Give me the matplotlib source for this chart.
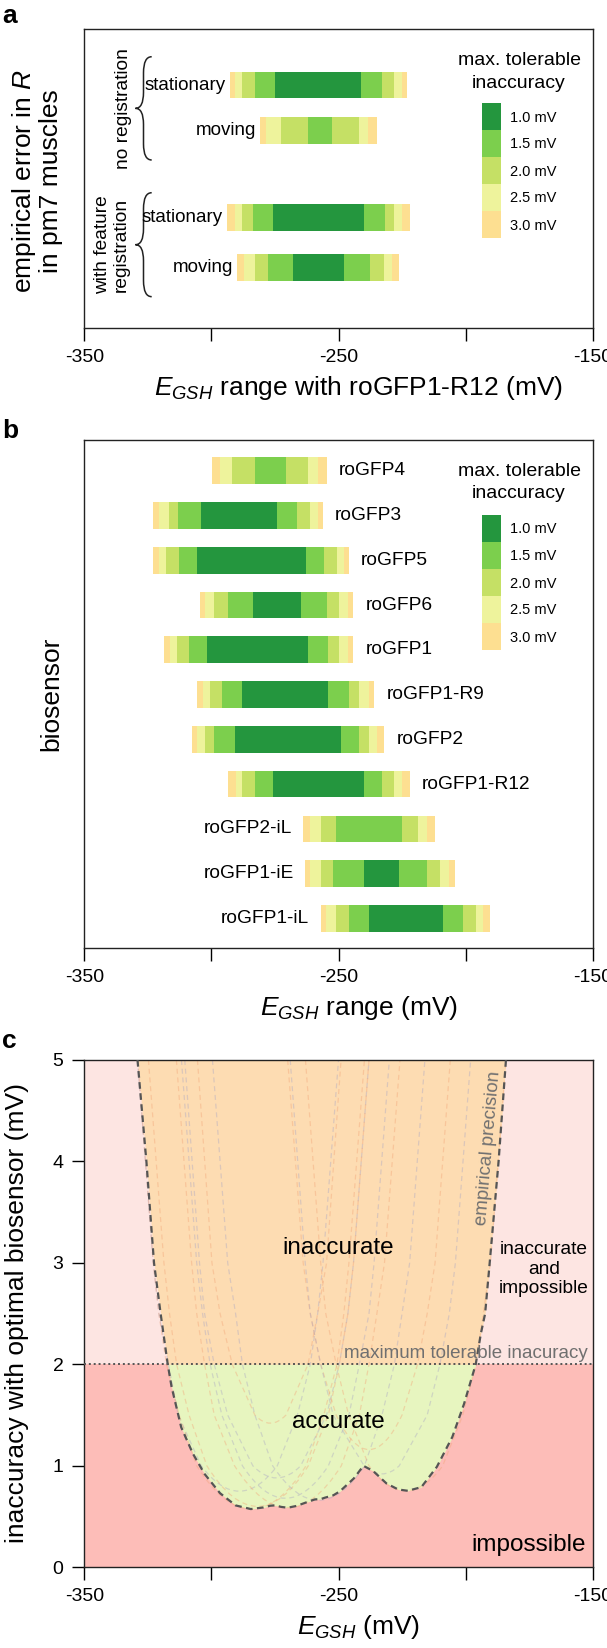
import numpy as np
import matplotlib
matplotlib.use('Agg')
import matplotlib.pyplot as plt
from matplotlib.patches import Rectangle, PathPatch
from matplotlib.path import Path

plt.rcParams['font.family'] = ['Liberation Sans', 'DejaVu Sans']
plt.rcParams['mathtext.fontset'] = 'custom'
plt.rcParams['mathtext.rm'] = 'Liberation Sans'
plt.rcParams['mathtext.it'] = 'Liberation Sans:italic'
plt.rcParams['mathtext.default'] = 'it'

nan = np.nan

# ---------------- data ----------------
levels = [3.0, 2.5, 2.0, 1.5, 1.0]
level_labels = ['1.0 mV', '1.5 mV', '2.0 mV', '2.5 mV', '3.0 mV']
x_ticks = [-350, -300, -250, -200, -150]
x_ticklabels = ['-350', '', '-250', '', '-150']

# panel a: ranges (mV) where inaccuracy stays below each level
a_labels = ['stationary', 'moving', 'stationary', 'moving']
a_lo_30 = [-292.8, -280.9, -293.9, -289.8]
a_hi_30 = [-223.0, -234.9, -221.9, -226.1]
a_lo_25 = [-290.9, -278.7, -290.9, -287.2]
a_hi_25 = [-225.0, -238.4, -225.0, -228.8]
a_lo_20 = [-287.8, -272.7, -287.8, -282.9]
a_hi_20 = [-228.0, -241.8, -228.0, -231.9]
a_lo_15 = [-282.9, -261.9, -283.7, -277.9]
a_hi_15 = [-232.9, -252.7, -231.7, -237.8]
a_lo_10 = [-275.0, nan, -275.8, -268.0]
a_hi_10 = [-241.0, nan, -239.8, -247.9]

# panel b
b_labels = ['roGFP4', 'roGFP3', 'roGFP5', 'roGFP6', 'roGFP1', 'roGFP1-R9',
            'roGFP2', 'roGFP1-R12', 'roGFP2-iL', 'roGFP1-iE', 'roGFP1-iL']
b_lo_30 = [-299.8, -322.9, -322.9, -304.7, -318.7, -305.8, -307.8, -293.6, -263.9, -263.1, -257.0]
b_hi_30 = [-254.7, -256.1, -245.9, -244.1, -244.1, -236.0, -231.9, -222.0, -212.0, -204.0, -190.2]
b_lo_25 = [-296.6, -320.7, -320.7, -302.7, -316.5, -303.5, -305.8, -290.5, -261.1, -261.1, -255.0]
b_hi_25 = [-258.2, -258.2, -247.9, -246.3, -246.3, -238.0, -234.9, -225.0, -215.1, -206.4, -193.0]
b_lo_20 = [-291.8, -316.9, -317.7, -298.9, -313.7, -300.5, -302.7, -287.8, -257.0, -257.0, -250.9]
b_hi_20 = [-262.0, -261.1, -250.6, -249.7, -249.7, -241.8, -238.0, -228.0, -218.9, -210.1, -196.0]
b_lo_15 = [-282.9, -313.1, -312.7, -293.6, -308.8, -295.9, -298.9, -282.9, -250.9, -252.1, -246.0]
b_hi_15 = [-270.7, -266.2, -255.8, -254.7, -254.0, -245.9, -241.8, -232.9, -225.0, -215.1, -201.1]
b_lo_10 = [nan, -304.0, -305.8, -283.7, -301.8, -287.8, -290.9, -275.9, nan, -239.9, -238.0]
b_hi_10 = [nan, -274.1, -262.8, -264.9, -261.9, -254.0, -248.9, -239.8, nan, -226.1, -209.0]
b_label_side = ['r', 'r', 'r', 'r', 'r', 'r', 'r', 'r', 'l', 'l', 'l']

# panel c: per-biosensor minimum inaccuracy and E where each reaches 5 mV
c_min = [1.42, 0.75, 0.574, 0.88, 0.60, 0.68, 0.587, 0.66, 1.16, 0.92, 0.754]
c_top_lo = [-305.5, -329.1, -329.0, -310.5, -324.8, -311.8, -313.8, -299.6, -270.0, -269.0, -263.0]
c_top_hi = [-249.0, -250.0, -239.8, -238.0, -238.0, -230.0, -225.8, -216.0, -206.0, -198.0, -184.1]
# envelope (best biosensor)
c_env_E = [-329.1, -325.6, -322.6, -320.0, -317.2, -315.7, -311.9, -307.3, -302.7, -296.6,
           -290.5, -284.5, -279.5, -276.8, -275.0, -272.5, -270.0, -266.5, -263.1, -259.3,
           -257.0, -255.5, -252.0, -249.4, -244.0, -240.2, -236.4, -231.1, -226.5, -222.7,
           -217.4, -211.3, -205.2, -200.6, -196.0, -194.0, -192.3, -190.5, -187.0, -184.1]
c_env_I = [5.0, 4.0, 3.0, 2.5, 2.0, 1.78, 1.38, 1.12, 0.92, 0.73,
           0.61, 0.574, 0.59, 0.607, 0.61, 0.595, 0.587, 0.605, 0.636, 0.669,
           0.672, 0.685, 0.71, 0.75, 0.875, 1.0, 0.95, 0.826, 0.767, 0.754,
           0.79, 0.99, 1.285, 1.61, 2.0, 2.3, 2.5, 3.0, 4.0, 5.0]
max_tolerable = 2.0

# ---------------- style ----------------
level_colors = ['#fddf91', '#eef39c', '#c5e065', '#7ccf4d', '#24963e']
legend_colors = ['#24963e', '#7ccf4d', '#c5e065', '#eef39c', '#fddf91']
W, H = 607, 1648
fig = plt.figure(figsize=(W / 100, H / 100), dpi=100)

def axrect(l, t, r, b):
    return [l / W, 1 - b / H, (r - l) / W, (b - t) / H]

def fx(px):
    return px / W

def fy(py):
    return 1 - py / H

X0, X1 = 84.4, 592.6
axA = fig.add_axes(axrect(X0, 29.3, X1, 328.3))
axB = fig.add_axes(axrect(X0, 440, X1, 948))
axC = fig.add_axes(axrect(X0, 1060, X1, 1567.3))

for ax in (axA, axB, axC):
    ax.set_xlim(-350, -150)
    ax.set_xticks(x_ticks)
    ax.set_xticklabels(x_ticklabels)
    ax.tick_params(axis='x', direction='out', length=9, width=1.0, labelsize=14, pad=6)
    for s in ax.spines.values():
        s.set_linewidth(1.0)
        s.set_color('#222222')

def draw_bars(ax, pos, los, his, height):
    pos = np.asarray(pos, float)
    for lo, hi, col in zip(los, his, level_colors):
        lo = np.asarray(lo, float)
        hi = np.asarray(hi, float)
        ok = ~np.isnan(lo)
        ax.barh(pos[ok], hi[ok] - lo[ok], left=lo[ok], height=height, color=col, linewidth=0)

def draw_legend(top_px, title_y1, title_y2):
    fig.text(fx(519), fy(title_y1), 'max. tolerable', ha='center', va='center', fontsize=14)
    fig.text(fx(519), fy(title_y2), 'inaccuracy', ha='center', va='center', fontsize=14)
    bh = 27
    for i, (c, lab) in enumerate(zip(legend_colors, level_labels)):
        t = top_px + i * bh
        fig.add_artist(Rectangle((fx(481.8), fy(t + bh)), (501.2 - 481.8) / W, bh / H,
                                 transform=fig.transFigure, color=c, lw=0))
        fig.text(fx(510), fy(t + bh / 2 + 1), lab, ha='left', va='center', fontsize=10.5)

def brace(ax, x_tip, x_stem, x_end, y0, y1, r):
    ym = (y0 + y1) / 2
    verts = [(x_end, y0), (x_stem, y0), (x_stem, y0 + r), (x_stem, ym - r),
             (x_stem, ym), (x_tip, ym), (x_stem, ym), (x_stem, ym + r),
             (x_stem, y1 - r), (x_stem, y1), (x_end, y1)]
    codes = [Path.MOVETO, Path.CURVE3, Path.CURVE3, Path.LINETO,
             Path.CURVE3, Path.CURVE3, Path.CURVE3, Path.CURVE3,
             Path.LINETO, Path.CURVE3, Path.CURVE3]
    ax.add_patch(PathPatch(Path(verts, codes), fill=False, lw=1.1, color='#222222',
                           clip_on=False))

def px2mv(px):
    return -350 + (px - X0) / ((X1 - X0) / 200)

# ---------------- panel a ----------------
a_pos = [0, 1, 2.895, 3.989]
axA.set_ylim(5.324, -1.219)
axA.set_yticks([])
draw_bars(axA, a_pos, [a_lo_30, a_lo_25, a_lo_20, a_lo_15, a_lo_10],
          [a_hi_30, a_hi_25, a_hi_20, a_hi_15, a_hi_10], 0.584)
for p, lab, lo in zip(a_pos, a_labels, a_lo_30):
    axA.text(lo - 1.5, p, lab, ha='right', va='center', fontsize=13.5)
brace(axA, px2mv(135.4), px2mv(143.5), px2mv(151.7), -0.619, 1.641, 0.35)
brace(axA, px2mv(135.4), px2mv(143.5), px2mv(151.7), 2.357, 4.632, 0.35)
axA.text(px2mv(124), 0.52, 'no registration', rotation=90, ha='center', va='center', fontsize=13.8)
axA.text(px2mv(112.2), 3.49, 'with feature\nregistration', rotation=90, ha='center',
         va='center', fontsize=13.8, linespacing=1.15, multialignment='center')
draw_legend(103, 60.7, 83.3)
fig.text(fx(36.5), fy(181), 'empirical error in $R$\nin pm7 muscles', rotation=90,
         ha='center', va='center', fontsize=19, linespacing=1.05, multialignment='center')
fig.text(fx(359), fy(395), r'$E_{GSH}$ range with roGFP1-R12 (mV)', ha='center',
         va='baseline', fontsize=19)
fig.text(fx(2), fy(23.3), 'a', fontsize=19, fontweight='bold', ha='left', va='baseline')

# ---------------- panel b ----------------
b_pos = np.arange(len(b_labels))
axB.set_ylim(10.661, -0.686)
axB.set_yticks([])
draw_bars(axB, b_pos, [b_lo_30, b_lo_25, b_lo_20, b_lo_15, b_lo_10],
          [b_hi_30, b_hi_25, b_hi_20, b_hi_15, b_hi_10], 0.596)
for p, lab, lo, hi, side in zip(b_pos, b_labels, b_lo_30, b_hi_30, b_label_side):
    if side == 'r':
        axB.text(hi + 4.8, p, lab, ha='left', va='center', fontsize=13.8)
    else:
        axB.text(lo - 4.5, p, lab, ha='right', va='center', fontsize=13.8)
draw_legend(515, 471.7, 494)
fig.text(fx(51), fy(694), 'biosensor', rotation=90, ha='center', va='center', fontsize=19)
fig.text(fx(359), fy(1015), r'$E_{GSH}$ range (mV)', ha='center', va='baseline', fontsize=19)
fig.text(fx(2), fy(438), 'b', fontsize=19, fontweight='bold', ha='left', va='baseline')

# ---------------- panel c ----------------
axC.set_ylim(0, 5)
axC.set_yticks([0, 1, 2, 3, 4, 5])
axC.tick_params(axis='y', direction='out', length=9, width=1.0, labelsize=14, pad=6)
axC.set_facecolor('#fde5e2')
axC.axhspan(0, max_tolerable, color='#fdbdb8', lw=0, zorder=0)
envE = np.array(c_env_E)
envI = np.array(c_env_I)
axC.fill_between(envE, envI, 5, color='#fddcb2', lw=0, zorder=1)
axC.fill_between(envE, envI, max_tolerable, where=envI <= max_tolerable, interpolate=True,
                 color='#e7f5bf', lw=0, zorder=1.1)

faint = ['#f2a477', '#a9a6c4']
b_lo_all = [b_lo_30, b_lo_25, b_lo_20, b_lo_15, b_lo_10]
b_hi_all = [b_hi_30, b_hi_25, b_hi_20, b_hi_15, b_hi_10]
for i in range(len(b_labels)):
    left = [(c_top_lo[i], 5.0)]
    right = []
    for lev, los, his in zip(levels, b_lo_all, b_hi_all):
        if not np.isnan(los[i]):
            left.append((los[i], lev))
            right.insert(0, (his[i], lev))
    right.append((c_top_hi[i], 5.0))
    lx, ly = left[-1]
    rx, _ = right[0]
    ctrl = ((lx + rx) / 2, 2 * c_min[i] - ly)
    verts = left + [ctrl] + right
    codes = ([Path.MOVETO] + [Path.LINETO] * (len(left) - 1) + [Path.CURVE3, Path.CURVE3]
             + [Path.LINETO] * (len(right) - 1))
    axC.add_patch(PathPatch(Path(verts, codes), fill=False, edgecolor=faint[i % 2],
                            lw=0.9, alpha=0.4, linestyle=(0, (4, 3)), zorder=2))

axC.plot(envE, envI, color='#555555', lw=1.6, linestyle=(0, (3, 2)), zorder=3)
axC.axhline(max_tolerable, color='#555555', lw=1.4, linestyle=(0, (1, 1.5)), zorder=3)

axC.text(-151.8, 2.06, 'maximum tolerable inacuracy', ha='right', va='baseline',
         fontsize=13.5, color='#707070', zorder=4)
axC.text(-191.0, 4.13, 'empirical precision', rotation=85, ha='center', va='center',
         fontsize=13.5, color='#707070', rotation_mode='anchor', zorder=4)
axC.text(-250, 3.15, 'inaccurate', ha='center', va='center', fontsize=17.5, zorder=4)
axC.text(-250, 1.43, 'accurate', ha='center', va='center', fontsize=17.5, zorder=4)
axC.text(-169.1, 2.94, 'inaccurate\nand\nimpossible', ha='center', va='center',
         fontsize=13.8, linespacing=1.2, zorder=4)
axC.text(-152.6, 0.22, 'impossible', ha='right', va='center', fontsize=17.5, zorder=4)
fig.text(fx(17), fy(1313), 'inaccuracy with optimal biosensor (mV)', rotation=90,
         ha='center', va='center', fontsize=19)
fig.text(fx(359), fy(1634), r'$E_{GSH}$ (mV)', ha='center', va='baseline', fontsize=19)
fig.text(fx(2), fy(1048), 'c', fontsize=19, fontweight='bold', ha='left', va='baseline')

fig.savefig('out.png', dpi=100)
